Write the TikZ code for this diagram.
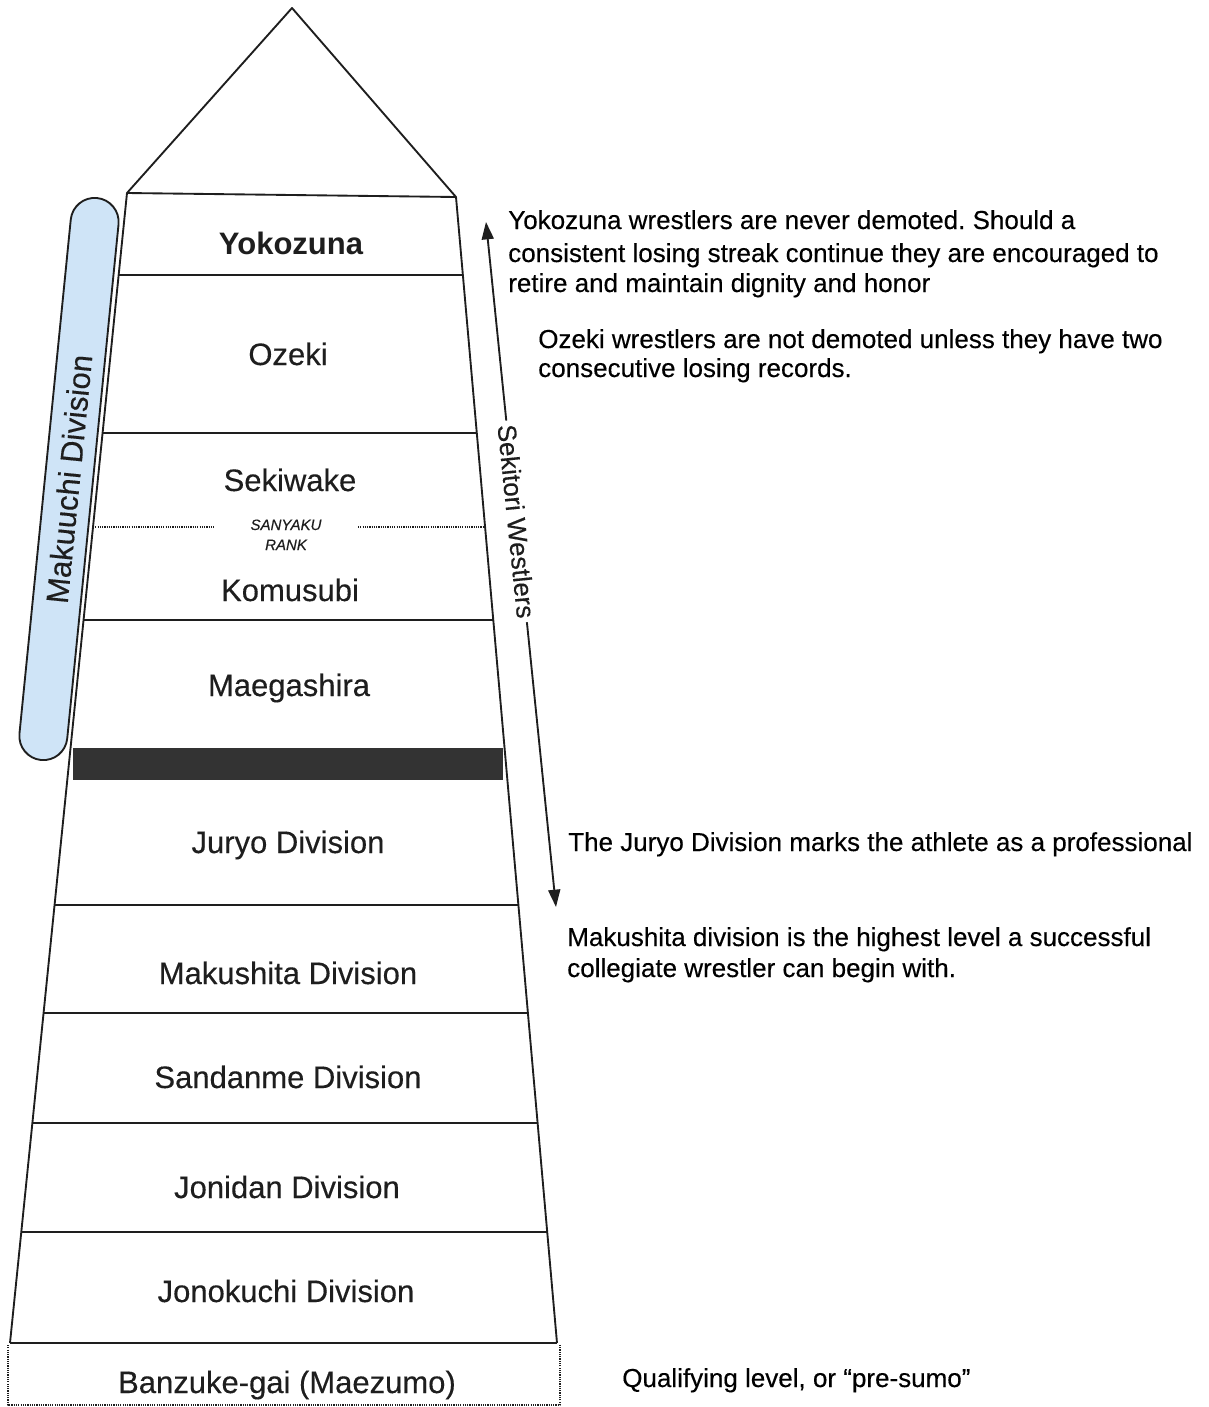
\documentclass[tikz,border=0pt]{standalone}
\usepackage{fontspec}
\setmainfont{Liberation Sans}
\newfontfamily\heavy{Liberation Sans}[FakeBold=0.3]
\usetikzlibrary{arrows.meta}
\definecolor{ink}{HTML}{1E1E1E}
\definecolor{pillblue}{HTML}{CFE4F7}
\definecolor{band}{HTML}{333333}
\begin{document}
\frenchspacing
\begin{tikzpicture}[x=0.75pt,y=-0.75pt,line join=round,
  edge/.style={line width=1.4pt,draw=ink},
  thinedge/.style={line width=1.1pt,draw=ink},
  dotline/.style={line width=1pt,draw=ink,dash pattern=on 0.9pt off 0.8pt},
  lbl/.style={font=\heavy\fontsize{23.25}{28}\selectfont,text=ink,inner sep=0pt,anchor=base},
  small/.style={font=\heavy\itshape\fontsize{11.25}{13}\selectfont,text=ink,inner sep=0pt,anchor=base},
  note/.style={font=\heavy\fontsize{19.5}{23}\selectfont,text=black,inner sep=0pt,anchor=base west}]
\useasboundingbox (0,0) rectangle (1208,1407);
\fill[white] (0,0) rectangle (1208,1407);

% outline coordinates
\coordinate (apex) at (292,8);
\coordinate (tl) at (127,193);
\coordinate (tr) at (456,197);
\coordinate (bl) at (10,1343);
\coordinate (br) at (557,1343);

% black band
\fill[band] (73,748) rectangle (503,780);

% roof
\draw[edge] (tl) -- (apex) -- (tr) -- cycle;
% sides
\draw[edge] (tl) -- (bl);
\draw[edge] (tr) -- (br);
% tier lines
\draw[thinedge] (118.7,275) -- (462.9,275);
\draw[thinedge] (102.6,433) -- (476.8,433);
\draw[thinedge] (83.6,620) -- (493.3,620);
\draw[thinedge] (54.6,905) -- (518.4,905);
\draw[thinedge] (43.6,1013) -- (527.9,1013);
\draw[thinedge] (32.4,1123) -- (537.6,1123);
\draw[thinedge] (21.3,1232) -- (547.2,1232);
\draw[edge] (bl) -- (br);

% sanyaku dotted lines
\draw[dotline] (93,527) -- (215,527);
\draw[dotline] (358,527) -- (484.6,527);

% bottom dotted box
\coordinate (dbl) at (8,1345);
\coordinate (dbr) at (560,1345);
\draw[dotline] (dbl) -- (8,1405) -- (560,1405) -- (dbr);

% makuuchi pill
\node[draw=ink,line width=1.4pt,fill=pillblue,minimum width=423.6pt,minimum height=36pt,
      rounded corners=18pt,rotate=84.3,inner sep=0pt,font=\heavy\fontsize{23.25}{28}\selectfont,text=ink]
      (pill) at (69,479) {Makuuchi Division};

% labels
\node[lbl,font=\bfseries\fontsize{23.25}{28}\selectfont] (yok) at (291,254) {Yokozuna};
\node[lbl] (oze) at (288,365) {Ozeki};
\node[lbl] (sek) at (290,491) {Sekiwake};
\node[small] (san1) at (286,530) {SANYAKU};
\node[small] (san2) at (286,550) {RANK};
\node[lbl] (kom) at (290,601) {Komusubi};
\node[lbl] (mae) at (289,696) {Maegashira};
\node[lbl] (jur) at (288,853) {Juryo Division};
\node[lbl] (mak) at (288,984) {Makushita Division};
\node[lbl] (san) at (288,1088) {Sandanme Division};
\node[lbl] (jon) at (287,1198) {Jonidan Division};
\node[lbl] (jnk) at (286,1302) {Jonokuchi Division};
\node[lbl] (ban) at (287,1393) {Banzuke-gai (Maezumo)};

% sekitori arrow
\coordinate (atop) at (486,222);
\coordinate (abot) at (556,907);
\draw[line width=1.4pt,draw=ink,{Triangle[length=13pt,width=9pt]}-{Triangle[length=13pt,width=9pt]}]
  (atop) -- node[pos=0.437,fill=white,rotate=-84.2,inner sep=3pt,font=\heavy\fontsize{19.5}{23}\selectfont,text=ink] (sekw) {Sekitori Westlers} (abot);

% notes
\node[note] (n1a) at (508,229) {Yokozuna wrestlers are never demoted. Should a};
\node[note] (n1b) at (508,262) {consistent losing streak continue they are encouraged to};
\node[note] (n1c) at (508,292) {retire and maintain dignity and honor};
\node[note] (n2a) at (538,348) {Ozeki wrestlers are not demoted unless they have two};
\node[note] (n2b) at (538,377) {consecutive losing records.};
\node[note] (n3) at (568,851) {The Juryo Division marks the athlete as a professional};
\node[note] (n4a) at (567,946) {Makushita division is the highest level a successful};
\node[note] (n4b) at (567,977) {collegiate wrestler can begin with.};
\node[note] (n5) at (622,1387) {Qualifying level, or “pre-sumo”};
\end{tikzpicture}
\end{document}
